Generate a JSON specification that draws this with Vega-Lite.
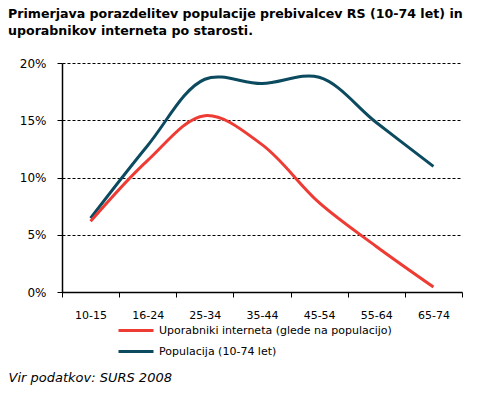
{
  "$schema": "https://vega.github.io/schema/vega-lite/v6.json",
  "width": 400,
  "height": 229,
  "autosize": "none",
  "padding": {"left": 62, "top": 63, "right": 18, "bottom": 104},
  "background": "white",
  "config": {
    "font": "DejaVu Sans",
    "view": {"stroke": null}
  },
  "title": {
    "text": ["Primerjava porazdelitev populacije prebivalcev RS (10-74 let) in", "uporabnikov interneta po starosti."],
    "anchor": "start",
    "frame": "group",
    "dx": -54,
    "fontSize": 12.6,
    "fontWeight": "bold",
    "color": "#000000",
    "lineHeight": 17,
    "offset": 19
  },
  "data": {
    "values": [
      {"age": "10-15", "series": "Populacija (10-74 let)", "value": 0.0645},
      {"age": "16-24", "series": "Populacija (10-74 let)", "value": 0.128},
      {"age": "25-34", "series": "Populacija (10-74 let)", "value": 0.1858},
      {"age": "35-44", "series": "Populacija (10-74 let)", "value": 0.182},
      {"age": "45-54", "series": "Populacija (10-74 let)", "value": 0.1875},
      {"age": "55-64", "series": "Populacija (10-74 let)", "value": 0.148},
      {"age": "65-74", "series": "Populacija (10-74 let)", "value": 0.1097},
      {"age": "10-15", "series": "Uporabniki interneta (glede na populacijo)", "value": 0.0617},
      {"age": "16-24", "series": "Uporabniki interneta (glede na populacijo)", "value": 0.115},
      {"age": "25-34", "series": "Uporabniki interneta (glede na populacijo)", "value": 0.154},
      {"age": "35-44", "series": "Uporabniki interneta (glede na populacijo)", "value": 0.1287},
      {"age": "45-54", "series": "Uporabniki interneta (glede na populacijo)", "value": 0.078},
      {"age": "55-64", "series": "Uporabniki interneta (glede na populacijo)", "value": 0.0398},
      {"age": "65-74", "series": "Uporabniki interneta (glede na populacijo)", "value": 0.0044}
    ]
  },
  "mark": {"type": "line", "interpolate": "catmull-rom", "strokeWidth": 3},
  "encoding": {
    "x": {
      "field": "age",
      "type": "nominal",
      "sort": null,
      "scale": {"type": "band", "paddingInner": 0, "paddingOuter": 0},
      "axis": {
        "title": "Vir podatkov: SURS 2008",
        "titleX": -54,
        "titleY": 79,
        "titleAlign": "left",
        "titleAnchor": "start",
        "titleFontStyle": "italic",
        "titleFontWeight": "normal",
        "titleFontSize": 13,
        "titleColor": "#000000",
        "labelAngle": 0,
        "labelFontSize": 11,
        "labelColor": "#000000",
        "labelPadding": 12,
        "tickBand": "extent",
        "tickSize": 5,
        "tickColor": "#000000",
        "domainColor": "#000000",
        "domainWidth": 1.5,
        "grid": false
      }
    },
    "y": {
      "field": "value",
      "type": "quantitative",
      "scale": {"domain": [0, 0.2], "nice": false},
      "axis": {
        "title": null,
        "format": "%",
        "values": [0, 0.05, 0.1, 0.15, 0.2],
        "labelFontSize": 12,
        "labelColor": "#000000",
        "labelPadding": 11,
        "tickSize": 5,
        "tickColor": "#000000",
        "domainColor": "#000000",
        "domainWidth": 1.5,
        "grid": true,
        "gridColor": "#000000",
        "gridDash": [3, 2],
        "gridWidth": 1
      }
    },
    "color": {
      "field": "series",
      "type": "nominal",
      "scale": {
        "domain": ["Uporabniki interneta (glede na populacijo)", "Populacija (10-74 let)"],
        "range": ["#EE3B34", "#0B4A5F"]
      },
      "legend": {
        "title": null,
        "orient": "none",
        "legendX": 67.5,
        "legendY": 261,
        "symbolType": "M-3.5,0H3.5",
        "symbolSize": 100,
        "symbolStrokeWidth": 3,
        "labelFontSize": 11,
        "labelLimit": 0,
        "labelColor": "#000000",
        "labelOffset": 16.5,
        "rowPadding": 8
      }
    }
  }
}
